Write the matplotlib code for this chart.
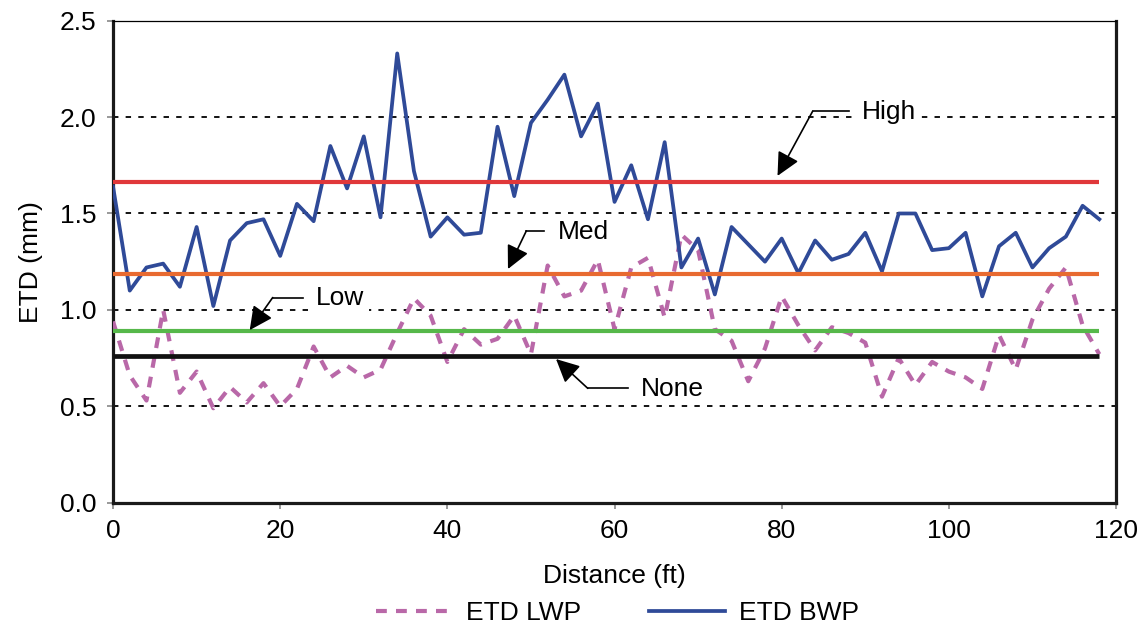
import matplotlib.pyplot as plt

plt.rcParams['font.family'] = ['Liberation Sans', 'DejaVu Sans']

# distance along the section (ft)
distance = [0, 2, 4, 6, 8, 10, 12, 14, 16, 18, 20, 22, 24, 26, 28, 30, 32, 34, 36, 38,
            40, 42, 44, 46, 48, 50, 52, 54, 56, 58, 60, 62, 64, 66, 68, 70, 72, 74, 76, 78,
            80, 82, 84, 86, 88, 90, 92, 94, 96, 98, 100, 102, 104, 106, 108, 110, 112, 114, 116, 118]

etd_bwp = [1.64, 1.10, 1.22, 1.24, 1.12, 1.43, 1.02, 1.36, 1.45, 1.47,
           1.28, 1.55, 1.46, 1.85, 1.63, 1.90, 1.48, 2.33, 1.72, 1.38,
           1.48, 1.39, 1.40, 1.95, 1.59, 1.97, 2.09, 2.22, 1.90, 2.07,
           1.56, 1.75, 1.47, 1.87, 1.22, 1.37, 1.08, 1.43, 1.34, 1.25,
           1.37, 1.19, 1.36, 1.26, 1.29, 1.40, 1.20, 1.50, 1.50, 1.31,
           1.32, 1.40, 1.07, 1.33, 1.40, 1.22, 1.32, 1.38, 1.54, 1.47]

etd_lwp = [0.94, 0.66, 0.53, 1.00, 0.57, 0.68, 0.49, 0.60, 0.52, 0.62,
           0.50, 0.59, 0.81, 0.65, 0.71, 0.65, 0.69, 0.88, 1.06, 0.97,
           0.73, 0.90, 0.82, 0.85, 0.97, 0.77, 1.23, 1.07, 1.10, 1.26,
           0.90, 1.22, 1.27, 0.96, 1.39, 1.31, 0.90, 0.84, 0.63, 0.80,
           1.07, 0.92, 0.79, 0.91, 0.88, 0.83, 0.55, 0.75, 0.61, 0.73,
           0.68, 0.65, 0.59, 0.87, 0.69, 0.95, 1.11, 1.22, 0.92, 0.77]

# severity thresholds (mm)
levels = ['High', 'Med', 'Low', 'None']
thresholds = [1.663, 1.188, 0.891, 0.760]
level_colors = ['#e0383a', '#e86a30', '#56b84a', '#111111']
level_widths = [3.0, 3.0, 3.0, 3.4]

# label position, elbow, arrow tip (data units)
label_xy = [(89.6, 2.025), (53.2, 1.405), (24.3, 1.06), (63.2, 0.59)]
elbow_xy = [(83.7, 2.03), (49.45, 1.41), (19.1, 1.064), (56.8, 0.593)]
tip_xy = [(79.5, 1.695), (47.25, 1.212), (16.35, 0.895), (53.0, 0.745)]

FS = 19

fig = plt.figure(figsize=(11.43, 6.34), dpi=100)
ax = fig.add_axes([0.0989, 0.2071, 0.8775, 0.7603])

ax.plot(distance, etd_lwp, color='#b968a8', lw=3.0, linestyle=(0, (2.6, 2.2)),
        label='ETD LWP', zorder=3)
ax.plot(distance, etd_bwp, color='#2f4a98', lw=2.7, label='ETD BWP', zorder=3)

for t, c, w in zip(thresholds, level_colors, level_widths):
    ax.plot([distance[0], distance[-1]], [t, t], color=c, lw=w, solid_capstyle='butt', zorder=4)

for name, lab, elb, tip in zip(levels, label_xy, elbow_xy, tip_xy):
    ax.plot([elb[0], lab[0] - 1.6], [elb[1], elb[1]], color='k', lw=1.2, zorder=5)
    ax.annotate('', xy=tip, xytext=elb,
                arrowprops=dict(arrowstyle='-|>,head_length=0.65,head_width=0.32',
                                mutation_scale=22, color='k', lw=1.2, shrinkA=0, shrinkB=0),
                zorder=5)
    ax.text(lab[0], lab[1], name, fontsize=FS, ha='left', va='center', zorder=5,
            bbox=dict(facecolor='white', edgecolor='none', pad=3))

ax.set_xlim(0, 120)
ax.set_ylim(0, 2.5)
ax.set_xticks([0, 20, 40, 60, 80, 100, 120])
ax.set_yticks([0.0, 0.5, 1.0, 1.5, 2.0, 2.5])
ax.set_yticklabels(['0.0', '0.5', '1.0', '1.5', '2.0', '2.5'])
ax.tick_params(axis='both', labelsize=FS, color='#888888', length=4, width=1.2, pad=8)

ax.set_axisbelow(True)
ax.yaxis.grid(True, color='k', lw=1.3, linestyle=(0, (3, 4)))

for side in ['left', 'bottom', 'right']:
    ax.spines[side].set_linewidth(2.3)
    ax.spines[side].set_color('#1a1a1a')
ax.spines['top'].set_linewidth(0.9)

ax.set_xlabel('Distance (ft)', fontsize=FS, labelpad=15)
ax.set_ylabel('ETD (mm)', fontsize=FS, labelpad=12)

ax.legend(loc='center', bbox_to_anchor=(0.503, -0.229), ncol=2, frameon=False,
          fontsize=FS, handlelength=2.85, handletextpad=0.55, columnspacing=2.6)

fig.savefig('out.png', dpi=100)
